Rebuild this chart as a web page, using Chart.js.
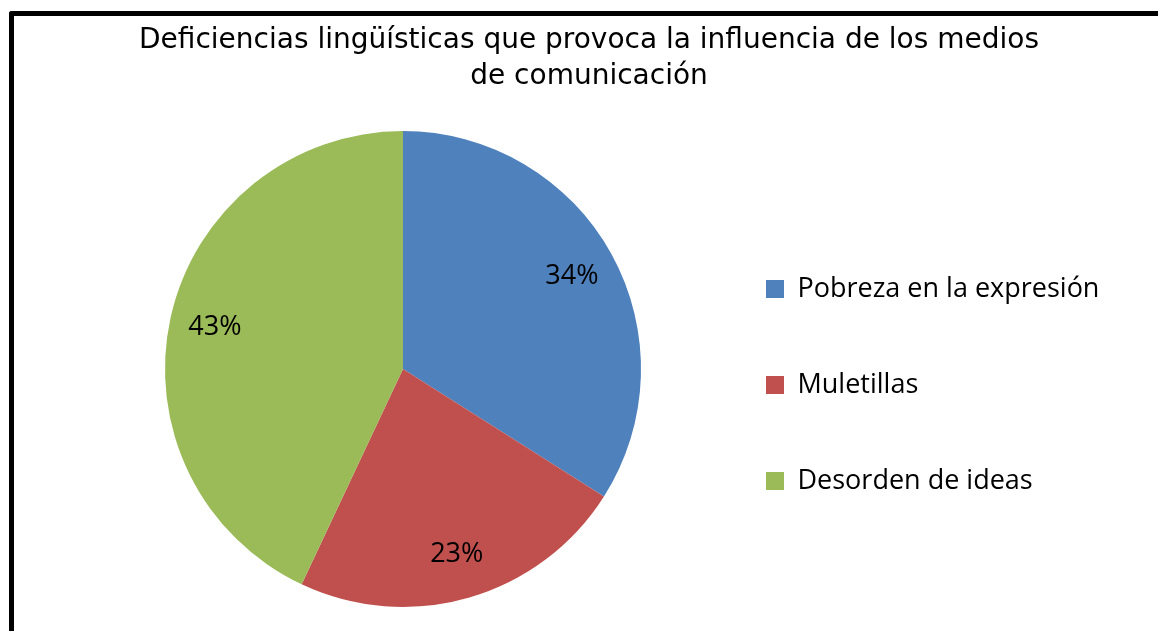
<!DOCTYPE html>
<html>
<head>
<meta charset="utf-8">
<script src="https://cdn.jsdelivr.net/npm/chart.js@4"></script>
<style>
  body { margin: 0; background: #fff; }
  #marco {
    position: absolute; left: 9px; top: 11px; width: 1300px; height: 800px;
    border-left: 5px solid #000; border-top: 5px solid #000;
    border-top-left-radius: 3px;
  }
  #caja { position: absolute; left: 0; top: 0; width: 1158px; height: 631px; }
</style>
</head>
<body>
<div id="marco"></div>
<div id="caja"><canvas id="grafico"></canvas></div>
<script>
// Datos del grafico
var categorias = ['Pobreza en la expresión', 'Muletillas', 'Desorden de ideas'];
var porcentajes = [34, 23, 43];
var colores = ['#4F81BD', '#C0504D', '#9BBB59'];
var titulo = ['Deficiencias lingüísticas que provoca la influencia de los medios', 'de comunicación'];

Chart.defaults.color = '#000';

// Etiquetas de porcentaje dentro de cada sector
var etiquetas = {
  id: 'etiquetas',
  afterDatasetsDraw: function(chart) {
    var ctx = chart.ctx;
    var meta = chart.getDatasetMeta(0);
    ctx.save();
    ctx.font = '27px "Open Sans"';
    ctx.fillStyle = '#000';
    ctx.textAlign = 'center';
    ctx.textBaseline = 'middle';
    meta.data.forEach(function(arco, i) {
      var p = arco.getProps(['x', 'y', 'startAngle', 'endAngle', 'outerRadius']);
      var medio = (p.startAngle + p.endAngle) / 2;
      var r = p.outerRadius * 0.81;
      ctx.fillText(porcentajes[i] + '%', p.x + Math.cos(medio) * r, p.y + Math.sin(medio) * r);
    });
    ctx.restore();
  }
};

// la leyenda es angosta para centrar el pastel; que el texto no se recorte
var leyendaAncha = {
  id: 'leyendaAncha',
  afterLayout: function(chart) {
    chart.legend.right = chart.width;
  }
};

var ctx = document.getElementById('grafico');
var chart = new Chart(ctx, {
  type: 'pie',
  data: {
    labels: categorias,
    datasets: [{
      data: porcentajes,
      backgroundColor: colores,
      borderWidth: 0
    }]
  },
  options: {
    responsive: true,
    maintainAspectRatio: false,
    animation: false,
    layout: { padding: { left: 109, right: 89, top: 0, bottom: 24 } },
    plugins: {
      tooltip: { enabled: false },
      title: {
        display: true,
        text: titulo,
        color: '#000',
        font: { family: 'DejaVu Sans', size: 28, weight: 'normal', lineHeight: 36 / 28 },
        padding: { top: 23, bottom: 36 }
      },
      legend: {
        position: 'right',
        fullSize: false,
        maxWidth: 372,
        title: { display: true, text: '', font: { size: 20, lineHeight: 1 }, padding: 6 },
        labels: {
          boxWidth: 18,
          boxHeight: 18,
          padding: 69,
          color: '#000',
          font: { family: 'Open Sans', size: 27 }
        }
      }
    }
  },
  plugins: [etiquetas, leyendaAncha]
});
</script>
</body>
</html>
